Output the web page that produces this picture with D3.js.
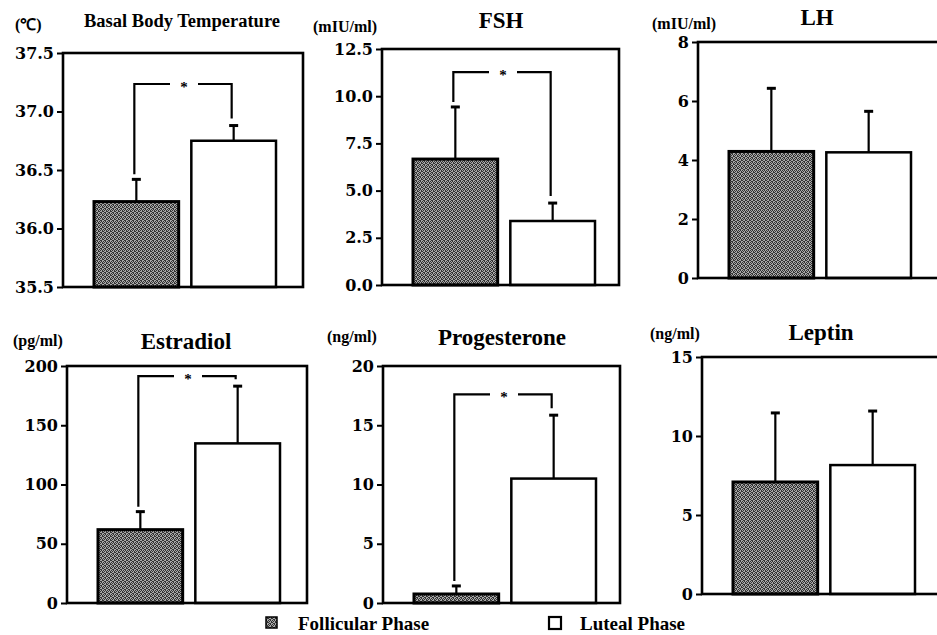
<!DOCTYPE html>
<html>
<head>
<meta charset="utf-8">
<script src="https://cdn.jsdelivr.net/npm/d3@7"></script>
</head>
<body style="margin:0; background:#fff">
<div id="chart"></div>
<script>
// Data (mean and SD per phase)
var panelTitles = ["Basal Body Temperature", "FSH", "LH", "Estradiol", "Progesterone", "Leptin"];
var units = ["(\u2103)", "(mIU/ml)", "(mIU/ml)", "(pg/ml)", "(ng/ml)", "(ng/ml)"];
var yMin = [35.5, 0, 0, 0, 0, 0];
var yMax = [37.5, 12.5, 8, 200, 20, 15];
var yTicks = [
    [35.5, 36.0, 36.5, 37.0, 37.5],
    [0, 2.5, 5, 7.5, 10, 12.5],
    [0, 2, 4, 6, 8],
    [0, 50, 100, 150, 200],
    [0, 5, 10, 15, 20],
    [0, 5, 10, 15]
];
var tickDecimals = [1, 1, 0, 0, 0, 0];
var phases = ["Follicular Phase", "Luteal Phase"];
var follicularMean = [36.23, 6.67, 4.29, 61.9, 0.76, 7.09];
var follicularSD = [0.19, 2.76, 2.14, 15.2, 0.68, 4.37];
var lutealMean = [36.75, 3.39, 4.26, 134.7, 10.5, 8.16];
var lutealSD = [0.13, 0.95, 1.39, 48.3, 5.35, 3.42];
var significant = [true, true, false, true, true, false];
var bracketLevel = [37.235, 11.28, null, 191.5, 17.6, null];

// Panel layout on the page
var layout = [
    {x: 63,  y: 53,  w: 240, h: 234, titleY: 27,  titleSize: 18.5, unitX: 15,  unitY: 30},
    {x: 382, y: 49,  w: 237, h: 236, titleY: 28,  titleSize: 23,   unitX: 313, unitY: 32},
    {x: 698, y: 42,  w: 242, h: 236, titleY: 25,  titleSize: 23,   unitX: 652, unitY: 29},
    {x: 67,  y: 366, w: 240, h: 237, titleY: 349, titleSize: 23,   unitX: 13,  unitY: 346},
    {x: 383, y: 366, w: 237, h: 237, titleY: 345, titleSize: 23,   unitX: 327, unitY: 342},
    {x: 702, y: 357, w: 238, h: 237, titleY: 340, titleSize: 23,   unitX: 650, unitY: 339}
];

var serif = "'Liberation Serif', 'Times New Roman', serif";
var tickFont = "'DejaVu Serif', serif";

var svgWidth = 937;
var svgHeight = 635;

var svg = d3.select("#chart")
    .append("svg")
    .attr("width", svgWidth)
    .attr("height", svgHeight)
    .style("display", "block");

svg.append("rect").attr("width", svgWidth).attr("height", svgHeight).attr("fill", "#fff");

// dithered grey fill like the print
var pat = svg.append("defs").append("pattern")
    .attr("id", "dots")
    .attr("width", 4)
    .attr("height", 4)
    .attr("patternUnits", "userSpaceOnUse");
pat.append("rect").attr("width", 4).attr("height", 4).attr("fill", "#a8a8a8");
[[0, 0], [2, 0], [1, 1], [3, 1], [0, 2], [3, 2], [1, 3], [2, 3]].forEach(function(p) {
    pat.append("rect").attr("x", p[0]).attr("y", p[1]).attr("width", 1).attr("height", 1).attr("fill", "#333");
});

panelTitles.forEach(function(title, i) {
    var L = layout[i];
    var g = svg.append("g").attr("transform", `translate(${L.x}, ${L.y})`);

    var y = d3.scaleLinear()
        .domain([yMin[i], yMax[i]])
        .range([L.h, 0]);

    var x = d3.scaleBand()
        .domain(phases)
        .range([31, 213])
        .paddingInner(0.13);

    var rows = [
        {phase: phases[0], mean: follicularMean[i], sd: follicularSD[i]},
        {phase: phases[1], mean: lutealMean[i], sd: lutealSD[i]}
    ];

    // axis
    var leftAxis = d3.axisLeft(y)
        .tickValues(yTicks[i])
        .tickSize(6)
        .tickPadding(3)
        .tickFormat(d3.format("." + tickDecimals[i] + "f"));

    var ax = g.append("g").call(leftAxis);
    ax.select(".domain").remove();
    ax.selectAll(".tick line").attr("stroke", "#000").attr("stroke-width", 2);
    ax.selectAll(".tick text")
        .attr("fill", "#000")
        .style("font-family", tickFont)
        .style("font-weight", "bold")
        .style("font-size", "16px");

    // error bars
    rows.forEach(function(d) {
        var cx = x(d.phase) + x.bandwidth() / 2;
        g.append("line")
            .attr("x1", cx).attr("x2", cx)
            .attr("y1", y(d.mean)).attr("y2", y(d.mean + d.sd))
            .attr("stroke", "#000").attr("stroke-width", 2.2);
        g.append("line")
            .attr("x1", cx - 4.5).attr("x2", cx + 4.5)
            .attr("y1", y(d.mean + d.sd)).attr("y2", y(d.mean + d.sd))
            .attr("stroke", "#000").attr("stroke-width", 3);
    });

    // bars
    g.selectAll("rect.bar")
        .data(rows)
        .enter()
        .append("rect")
        .attr("class", "bar")
        .attr("x", d => x(d.phase))
        .attr("y", d => y(d.mean))
        .attr("width", x.bandwidth())
        .attr("height", d => L.h - y(d.mean))
        .attr("fill", (d, j) => j == 0 ? "url(#dots)" : "#fff")
        .attr("stroke", "#000")
        .attr("stroke-width", (d, j) => j == 0 ? 3 : 2.5);

    // frame
    g.append("rect")
        .attr("width", L.w)
        .attr("height", L.h)
        .attr("fill", "none")
        .attr("stroke", "#000")
        .attr("stroke-width", 2.6);

    // significance bracket
    if (significant[i]) {
        var x1 = x(phases[0]) + x.bandwidth() / 2 - 2;
        var x2 = x(phases[1]) + x.bandwidth() / 2 - 2;
        var by = y(bracketLevel[i]);
        var mid = (x1 + x2) / 2;
        var leftStart = y(rows[0].mean + rows[0].sd) - 5;
        var rightEnd = Math.max(y(rows[1].mean + rows[1].sd) - 7, by + 3);
        g.append("path")
            .attr("d", `M${x1},${leftStart}V${by}H${mid - 13}`)
            .attr("fill", "none").attr("stroke", "#000").attr("stroke-width", 2.2);
        g.append("path")
            .attr("d", `M${mid + 15},${by}H${x2}V${rightEnd}`)
            .attr("fill", "none").attr("stroke", "#000").attr("stroke-width", 2.2);
        g.append("text")
            .attr("x", mid + 1)
            .attr("y", by + 8)
            .attr("text-anchor", "middle")
            .attr("fill", "#000")
            .style("font-family", serif)
            .style("font-weight", "bold")
            .style("font-size", "15px")
            .text("*");
    }

    // title and unit
    svg.append("text")
        .attr("x", L.x + 119)
        .attr("y", L.titleY)
        .attr("text-anchor", "middle")
        .attr("fill", "#000")
        .style("font-family", serif)
        .style("font-weight", "bold")
        .style("font-size", L.titleSize + "px")
        .text(title);

    svg.append("text")
        .attr("x", L.unitX)
        .attr("y", L.unitY)
        .attr("fill", "#000")
        .style("font-family", serif)
        .style("font-weight", "bold")
        .style("font-size", "16px")
        .text(units[i]);
});

// legend
var legend = svg.append("g")
    .style("font-family", serif)
    .style("font-weight", "bold")
    .style("font-size", "19px");
legend.append("rect")
    .attr("x", 266).attr("y", 617).attr("width", 11).attr("height", 11)
    .attr("fill", "url(#dots)").attr("stroke", "#000").attr("stroke-width", 1.5);
legend.append("text")
    .attr("x", 298).attr("y", 630)
    .text(phases[0]);
legend.append("rect")
    .attr("x", 549).attr("y", 617).attr("width", 12).attr("height", 12)
    .attr("fill", "#fff").attr("stroke", "#000").attr("stroke-width", 2.2);
legend.append("text")
    .attr("x", 580).attr("y", 630)
    .text(phases[1]);
</script>
</body>
</html>
